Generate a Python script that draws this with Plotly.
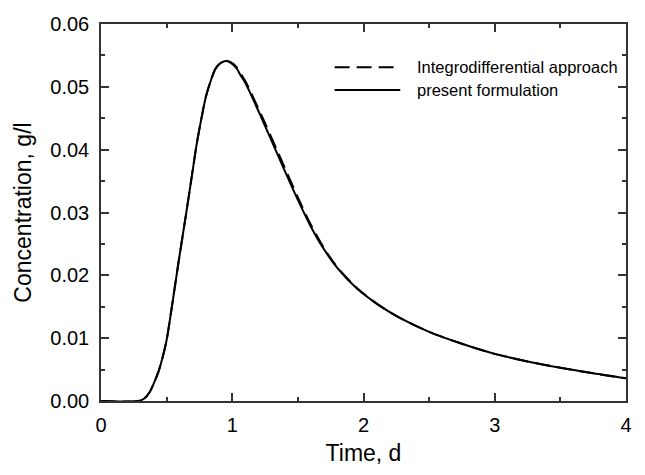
import plotly.graph_objects as go

# Time, d
time_d = [0, 0.28, 0.33, 0.37, 0.40, 0.44, 0.47, 0.50, 0.54, 0.59, 0.65, 0.69,
          0.73, 0.77, 0.80, 0.84, 0.87, 0.90, 0.93, 0.955, 0.99, 1.03, 1.07, 1.10,
          1.22, 1.35, 1.50, 1.60, 1.70, 1.80, 1.95, 2.10, 2.27, 2.5, 2.75, 3.0,
          3.25, 3.5, 3.75, 4.0]

# present formulation (solid)
present = [0, 0, 0.0004, 0.0014, 0.0027, 0.0048, 0.0070, 0.0097, 0.0150, 0.0220,
           0.0300, 0.0355, 0.0410, 0.0455, 0.0485, 0.0512, 0.0528, 0.0536, 0.0540,
           0.0541, 0.0538, 0.0530, 0.0516, 0.0506, 0.0452, 0.0390, 0.0320, 0.0277,
           0.0241, 0.0212, 0.0179, 0.0155, 0.0133, 0.0110, 0.0091, 0.0075, 0.0063,
           0.0053, 0.0044, 0.0036]

# Integrodifferential approach (dashed)
integro = [0, 0, 0.0004, 0.0014, 0.0027, 0.0048, 0.0070, 0.0097, 0.0150, 0.0220,
           0.0300, 0.0355, 0.0410, 0.0455, 0.0485, 0.0512, 0.0528, 0.0536, 0.0540,
           0.0541, 0.0539, 0.0532, 0.0519, 0.0509, 0.0456, 0.0395, 0.0324, 0.0280,
           0.0243, 0.0213, 0.0180, 0.0155, 0.0133, 0.0110, 0.0091, 0.0075, 0.0063,
           0.0053, 0.0044, 0.0036]

legend_labels = ["Integrodifferential approach", "present formulation"]

FONT = "Liberation Sans, Arial, sans-serif"
AX = "#333333"

fig = go.Figure()
fig.add_trace(go.Scatter(x=time_d, y=integro, mode="lines", name=legend_labels[0],
                         line=dict(color="black", width=2, dash="15px,7px",
                                   shape="spline", smoothing=0.8),
                         showlegend=False))
fig.add_trace(go.Scatter(x=time_d, y=present, mode="lines", name=legend_labels[1],
                         line=dict(color="black", width=2, shape="spline", smoothing=0.8),
                         showlegend=False))

# custom legend (layout elements in paper coordinates)
leg_x0, leg_x1, leg_tx = 0.445, 0.570, 0.599
leg_y = [0.885, 0.825]
dashes = ["15px,7px", "solid"]
for yy, lab, dsh in zip(leg_y, legend_labels, dashes):
    fig.add_shape(type="line", xref="paper", yref="paper", x0=leg_x0, x1=leg_x1,
                  y0=yy, y1=yy, line=dict(color="black", width=2, dash=dsh))
    fig.add_annotation(xref="paper", yref="paper", x=leg_tx, y=yy, text=lab,
                       showarrow=False, xanchor="left", yanchor="middle",
                       font=dict(family=FONT, size=16.5, color="black"))

axis_common = dict(
    showgrid=False, zeroline=False, showline=True, linecolor=AX, linewidth=1.5,
    mirror="allticks", ticks="inside", ticklen=8, tickwidth=1.5, tickcolor=AX,
    tickfont=dict(family=FONT, size=20, color="black"),
)

fig.update_xaxes(range=[0, 4], dtick=1, tick0=0, ticklabelstandoff=5,
                 minor=dict(ticks="inside", dtick=0.5, ticklen=4, tickwidth=1.5,
                            tickcolor=AX, showgrid=False),
                 title=dict(text="Time, d", font=dict(family=FONT, size=23, color="black"),
                            standoff=10),
                 **axis_common)
fig.update_yaxes(range=[0, 0.06], dtick=0.01, tick0=0, tickformat=".2f",
                 ticklabelstandoff=6,
                 minor=dict(ticks="inside", dtick=0.005, ticklen=4, tickwidth=1.5,
                            tickcolor=AX, showgrid=False),
                 title=dict(text="Concentration, g/l",
                            font=dict(family=FONT, size=23, color="black"), standoff=12),
                 **axis_common)

# page body has an 8px margin: figure sized/offset so the plot area lands in place
fig.update_layout(width=629, height=459, plot_bgcolor="white", paper_bgcolor="white",
                  margin=dict(l=93, r=5, t=11, b=65), showlegend=False)

fig.write_html("out.html")
